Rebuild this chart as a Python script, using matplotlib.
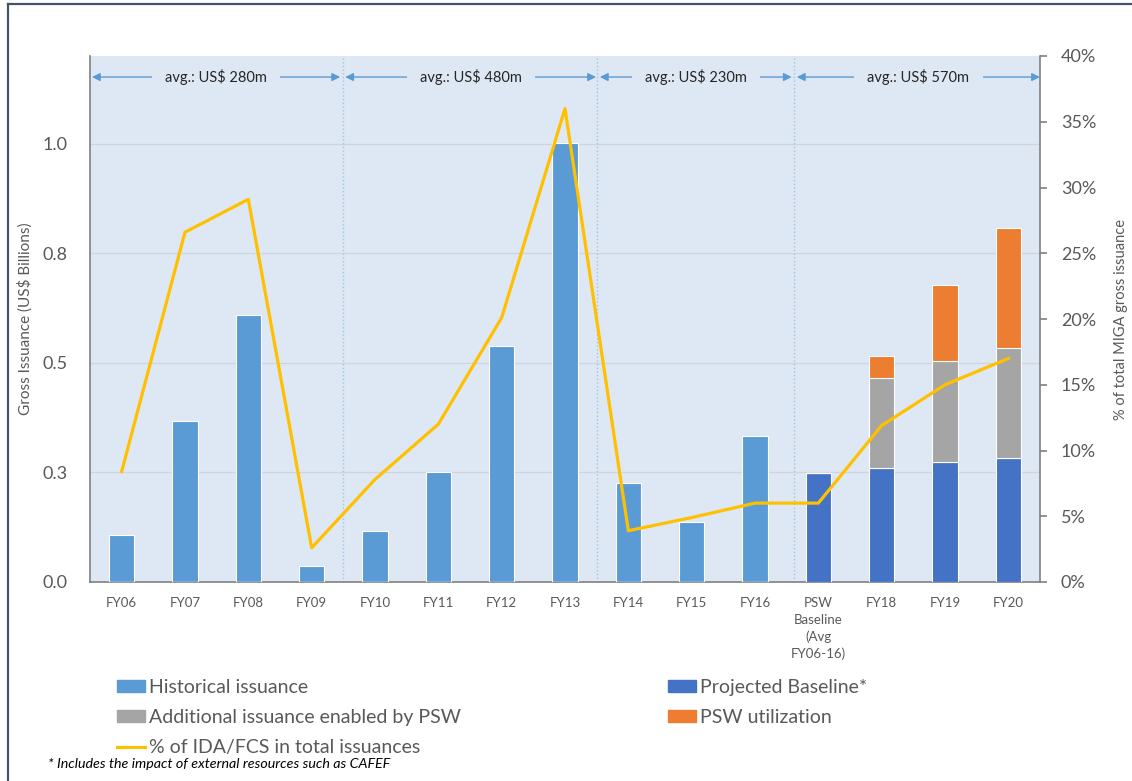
import numpy as np
import matplotlib.pyplot as plt
from matplotlib.patches import Patch
from matplotlib.lines import Line2D

plt.rcParams['font.family'] = ['Lato', 'DejaVu Sans']

categories = ['FY06', 'FY07', 'FY08', 'FY09', 'FY10', 'FY11', 'FY12', 'FY13',
              'FY14', 'FY15', 'FY16', 'PSW\nBaseline\n(Avg\nFY06-16)', 'FY18', 'FY19', 'FY20']

# US$ billions
historical = [0.107, 0.368, 0.609, 0.036, 0.116, 0.252, 0.539, 1.002, 0.225, 0.136, 0.334,
              0, 0, 0, 0]
projected = [0, 0, 0, 0, 0, 0, 0, 0, 0, 0, 0, 0.248, 0.259, 0.273, 0.284]
additional = [0, 0, 0, 0, 0, 0, 0, 0, 0, 0, 0, 0, 0.207, 0.232, 0.250]
utilization = [0, 0, 0, 0, 0, 0, 0, 0, 0, 0, 0, 0, 0.050, 0.172, 0.273]

# % of IDA/FCS in total issuances
ida_share = [8.4, 26.6, 29.1, 2.6, 7.8, 12.0, 20.1, 36.0, 3.9, 4.9, 6.0, 6.0, 11.9, 15.0, 17.0]

periods = ['avg.: US$ 280m', 'avg.: US$ 480m', 'avg.: US$ 230m', 'avg.: US$ 570m']
period_bounds = [(-0.47, 3.45), (3.53, 7.49), (7.55, 10.58), (10.66, 14.5)]
dividers = [3.5, 7.5, 10.62]

c_hist = '#5B9BD5'
c_proj = '#4472C4'
c_add = '#A5A5A5'
c_util = '#ED7D31'
c_line = '#FFC000'
c_bg = '#DEE8F4'
c_text = '#595959'

fig = plt.figure(figsize=(11.32, 7.81), dpi=100)
ax = fig.add_axes([90 / 1132, 1 - 582 / 781, 950 / 1132, 526 / 781])
ax.set_facecolor(c_bg)

x = np.arange(len(categories))
w = 0.4
hist = np.array(historical)
proj = np.array(projected)
add = np.array(additional)
util = np.array(utilization)

ax.bar(x, hist, w, color=c_hist, edgecolor='white', linewidth=0.8, zorder=3)
ax.bar(x, proj, w, color=c_proj, edgecolor='white', linewidth=0.8, zorder=3)
ax.bar(x, add, w, bottom=proj, color=c_add, edgecolor='white', linewidth=0.8, zorder=3)
ax.bar(x, util, w, bottom=proj + add, color=c_util, edgecolor='white', linewidth=0.8, zorder=3)

ax.set_xlim(-0.5, 14.5)
ax.set_ylim(0, 1.2)
ax.set_yticks([0, 0.25, 0.5, 0.75, 1.0])
ax.set_yticklabels(['0.0', '0.3', '0.5', '0.8', '1.0'])
ax.set_xticks(x)
ax.set_xticklabels(categories)
for t in ax.get_xticklabels():
    t.set_linespacing(1.45)
ax.tick_params(axis='x', length=0, pad=11, labelsize=9.5, colors=c_text)
ax.tick_params(axis='y', length=0, pad=16, labelsize=13, colors=c_text)
ax.grid(axis='y', color='#CFD5DC', linewidth=1, zorder=1)
ax.set_axisbelow(True)
for s in ['top', 'right']:
    ax.spines[s].set_visible(False)
for s in ['left', 'bottom']:
    ax.spines[s].set_color('#808080')
    ax.spines[s].set_linewidth(1.2)
ax.set_ylabel('Gross Issuance (US$ Billions)', fontsize=11, color=c_text)
ax.yaxis.set_label_coords(-0.06, 0.5)

for d in dividers:
    ax.axvline(d, color='#9DC3E6', linestyle=':', linewidth=1, zorder=2)

for label, (a, b) in zip(periods, period_bounds):
    ax.annotate('', xy=(a, 0.96), xytext=(b, 0.96), xycoords=('data', 'axes fraction'),
                arrowprops=dict(arrowstyle='<|-|>', color=c_hist, lw=1, mutation_scale=12,
                                shrinkA=0, shrinkB=0), zorder=4)
    ax.text((a + b) / 2, 0.96, label, transform=ax.get_xaxis_transform(), ha='center',
            va='center', fontsize=10.5, color='#262626', zorder=5,
            bbox=dict(facecolor=c_bg, edgecolor='none', boxstyle='square,pad=0.9'))

ax2 = ax.twinx()
ax2.plot(x, ida_share, color=c_line, linewidth=2.3, zorder=6)
ax2.set_ylim(0, 40)
ax2.set_yticks(np.arange(0, 41, 5))
ax2.set_yticklabels([f'{v}%' for v in range(0, 41, 5)])
ax2.tick_params(axis='y', length=5, width=1.2, color='#808080', pad=10, labelsize=13, colors=c_text)
ax2.tick_params(axis='y', color='#808080')
for s in ['top', 'left', 'bottom']:
    ax2.spines[s].set_visible(False)
ax2.spines['right'].set_color('#808080')
ax2.spines['right'].set_linewidth(1.2)
ax2.set_ylabel('% of total MIGA gross issuance', fontsize=10.5, color=c_text)
ax2.yaxis.set_label_coords(1.078, 0.5)

left_handles = [Patch(color=c_hist), Patch(color=c_add), Line2D([], [], color=c_line, lw=2.3)]
left_labels = ['Historical issuance', 'Additional issuance enabled by PSW',
               '% of IDA/FCS in total issuances']
right_handles = [Patch(color=c_proj), Patch(color=c_util)]
right_labels = ['Projected Baseline*', 'PSW utilization']
leg_kw = dict(frameon=False, fontsize=14, labelcolor=c_text, handlelength=1.45,
              handleheight=0.55, handletextpad=0.2, labelspacing=0.68, borderpad=0,
              borderaxespad=0, loc='upper left')
fig.legend(left_handles, left_labels, bbox_to_anchor=(117 / 1132, 1 - 679 / 781), **leg_kw)
fig.legend(right_handles, right_labels, bbox_to_anchor=(668 / 1132, 1 - 679 / 781), **leg_kw)

fig.text(48 / 1132, 1 - 764 / 781, '* Includes the impact of external resources such as CAFEF',
         fontsize=10.3, style='italic', color='#000000', va='center')

# frame lines
fig.add_artist(Line2D([8 / 1132, 8 / 1132], [0, 1 - 4 / 781], color='#44546A', lw=1.6))
fig.add_artist(Line2D([8 / 1132, 1], [1 - 4 / 781, 1 - 4 / 781], color='#44546A', lw=1.6))

fig.savefig('out.png', dpi=100)
